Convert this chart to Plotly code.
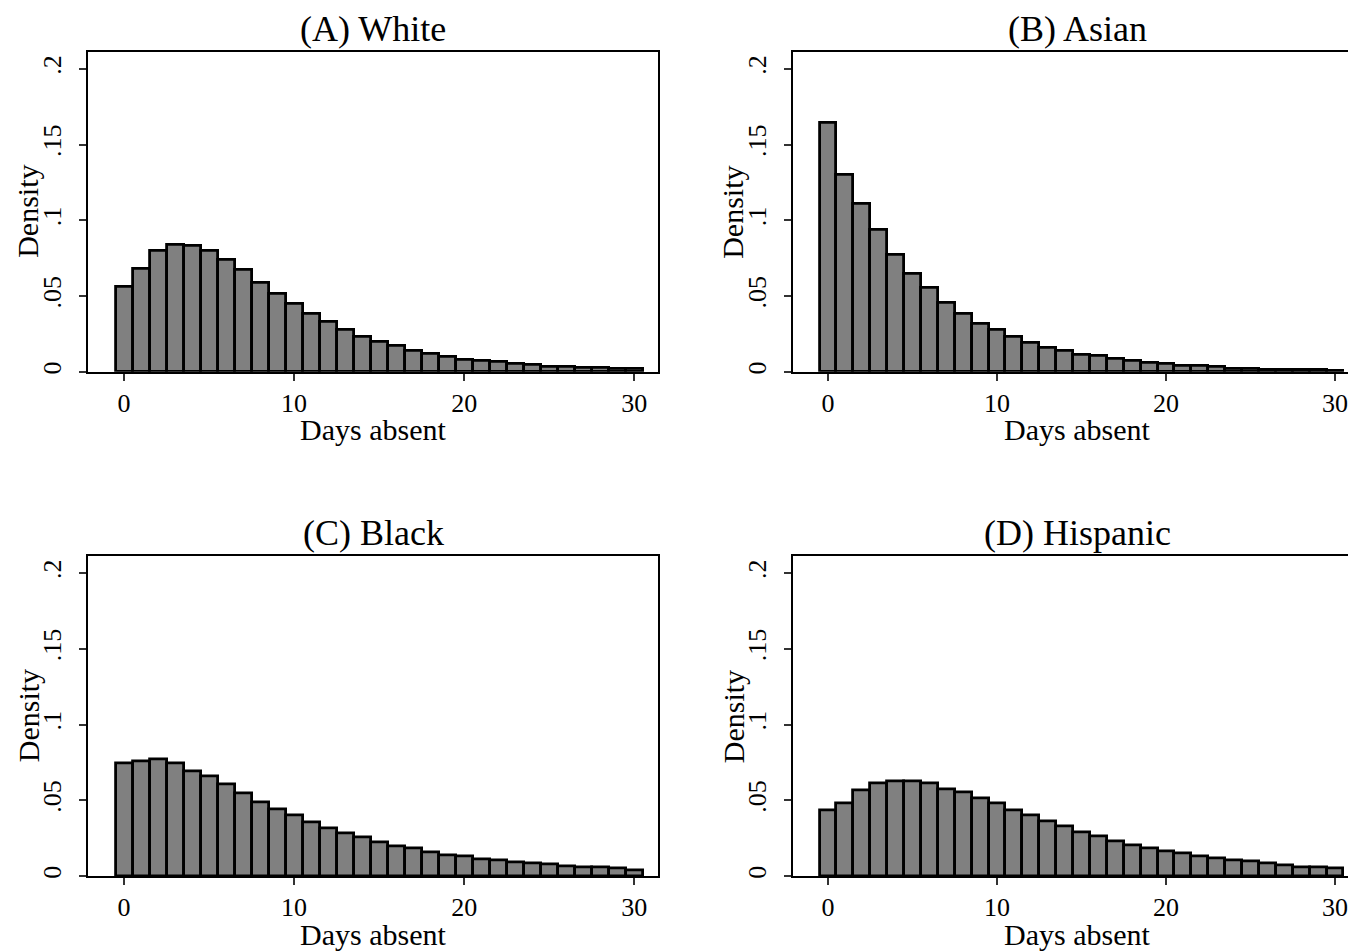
import plotly.graph_objects as go

days = list(range(0, 31))

white = [0.056, 0.068, 0.0796, 0.0837, 0.0831, 0.0796, 0.074, 0.067, 0.0589, 0.0516,
         0.0446, 0.0382, 0.033, 0.0277, 0.0231, 0.0196, 0.0169, 0.0141, 0.0116, 0.0099,
         0.0081, 0.0073, 0.0064, 0.0053, 0.0044, 0.0035, 0.0033, 0.0026, 0.0024, 0.0018, 0.0018]
asian = [0.1642, 0.1301, 0.1108, 0.0936, 0.0774, 0.0648, 0.0554, 0.0455, 0.038, 0.0319,
         0.0275, 0.0229, 0.0193, 0.0158, 0.0138, 0.0114, 0.0103, 0.0084, 0.007, 0.0059,
         0.0051, 0.0042, 0.004, 0.0033, 0.0022, 0.0022, 0.0015, 0.0015, 0.0015, 0.0015, 0.0007]
black = [0.0747, 0.0756, 0.0774, 0.0747, 0.0692, 0.0659, 0.0607, 0.0545, 0.049, 0.0444,
         0.04, 0.0356, 0.0319, 0.0281, 0.0255, 0.0226, 0.02, 0.0182, 0.0156, 0.0138,
         0.013, 0.0114, 0.0105, 0.0095, 0.0086, 0.0077, 0.0068, 0.0062, 0.0062, 0.0051, 0.0042]
hispanic = [0.0435, 0.0479, 0.0567, 0.0613, 0.0624, 0.0624, 0.0613, 0.0576, 0.0552, 0.0514,
            0.0479, 0.0435, 0.04, 0.0365, 0.0327, 0.0292, 0.0264, 0.0229, 0.0202, 0.0185,
            0.0167, 0.0149, 0.0132, 0.0116, 0.0105, 0.0097, 0.0086, 0.0075, 0.0059, 0.0059, 0.0051]

panel_titles = ["(A) White", "(B) Asian", "(C) Black", "(D) Hispanic"]
x_tickvals = [0, 10, 20, 30]
y_tickvals = [0, 0.05, 0.1, 0.15, 0.2]
y_ticktext = ["0", ".05", ".1", ".15", ".2"]
x_label = "Days absent"
y_label = "Density"

OFF = 8  # page body margin
W, H = 1356 - OFF, 952 - OFF
FONT = "Liberation Serif"

def px_x(p):
    return (p - OFF) / W

def px_y(p):
    return 1 - (p - OFF) / H

# pixel boxes in screen coordinates: (left, right, top, bottom)
boxes = [
    (88, 658, 52, 373),
    (793, 1356, 52, 373),
    (88, 658, 558, 879),
    (793, 1356, 558, 879),
]
xranges = [[-2.12, 31.4], [-2.07, 31.24], [-2.12, 31.4], [-2.07, 31.24]]
series = [white, asian, black, hispanic]

fig = go.Figure()
layout = dict(
    width=W, height=H,
    margin=dict(l=0, r=0, t=0, b=0),
    paper_bgcolor="white", plot_bgcolor="white",
    showlegend=False,
    font=dict(family=FONT, color="black"),
    bargap=0,
)
annotations = []
for i, (vals, box, xr, title) in enumerate(zip(series, boxes, xranges, panel_titles)):
    n = "" if i == 0 else str(i + 1)
    fig.add_trace(go.Bar(
        x=days, y=vals, width=1,
        marker=dict(color="#808080", line=dict(color="black", width=2.8)),
        xaxis="x" + n, yaxis="y" + n,
    ))
    l, r, t, b = box
    right_visible = r < 1356
    layout["xaxis" + n] = dict(
        domain=[px_x(l), min(px_x(r), 1.0)], range=xr, anchor="y" + n,
        tickvals=x_tickvals, ticks="outside", ticklen=7, tickwidth=1.5, tickcolor="#333",
        showline=True, linecolor="black", linewidth=1.5, mirror=True,
        showgrid=False, zeroline=False,
        tickfont=dict(family=FONT, size=26, color="black"),
        ticklabelstandoff=0,
    )
    layout["yaxis" + n] = dict(
        domain=[px_y(b), px_y(t)], range=[0, 0.2112], anchor="x" + n,
        tickvals=y_tickvals, ticktext=y_ticktext, tickangle=-90,
        ticks="outside", ticklen=7, tickwidth=1.5, tickcolor="#333",
        showline=True, linecolor="black", linewidth=1.5, mirror=right_visible,
        showgrid=False, zeroline=False,
        tickfont=dict(family=FONT, size=26, color="black"),
        ticklabelstandoff=8,
    )
    cx = (l + r) / 2 if right_visible else (l + 1361) / 2
    annotations.append(dict(text=title, x=px_x(cx), y=px_y(t - 44), xref="paper", yref="paper",
                            xanchor="center", yanchor="top", showarrow=False, borderpad=0,
                            font=dict(family=FONT, size=36, color="black")))
    annotations.append(dict(text=x_label, x=px_x(cx), y=px_y(b + 58), xref="paper", yref="paper",
                            xanchor="center", yanchor="middle", showarrow=False,
                            font=dict(family=FONT, size=30, color="black")))
    annotations.append(dict(text=y_label, x=px_x(l - 60), y=px_y((t + b) / 2), xref="paper", yref="paper",
                            xanchor="center", yanchor="middle", showarrow=False, textangle=-90,
                            font=dict(family=FONT, size=30, color="black")))

layout["annotations"] = annotations
fig.update_layout(**layout)
fig.write_html("out.html")
